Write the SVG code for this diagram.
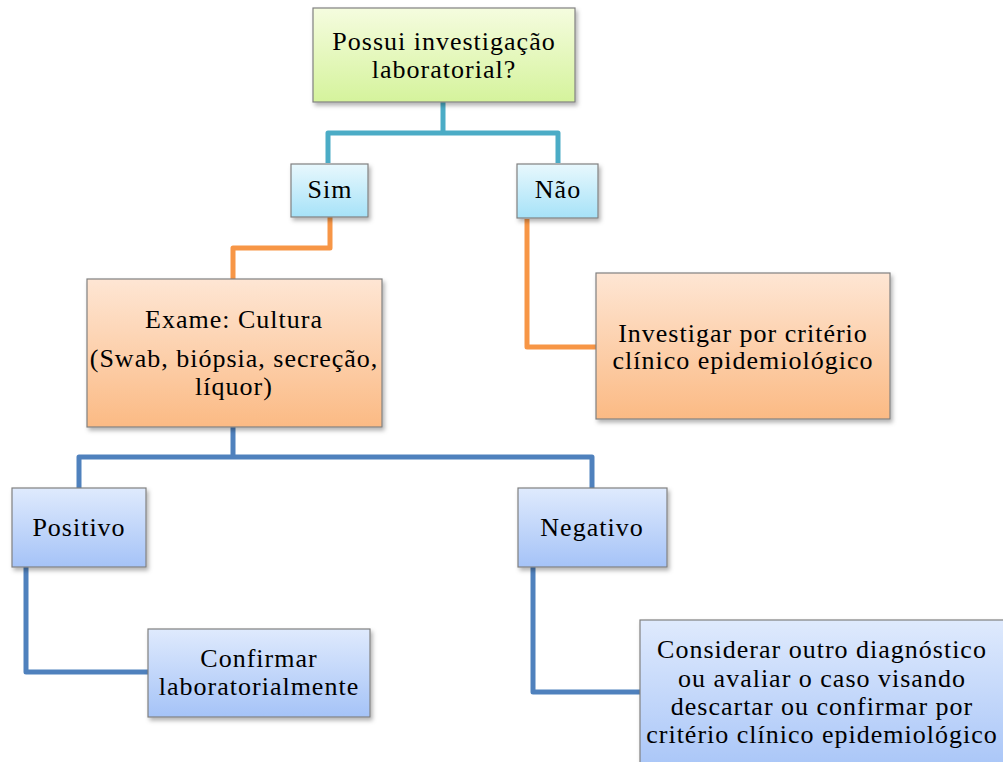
<svg xmlns="http://www.w3.org/2000/svg" width="1003" height="762" viewBox="0 0 1003 762">
<defs>
<linearGradient id="gGreen" x1="0" y1="0" x2="0" y2="1"><stop offset="0" stop-color="#f5fcdf"/><stop offset="1" stop-color="#d5f39c"/></linearGradient>
<linearGradient id="gCyan" x1="0" y1="0" x2="0" y2="1"><stop offset="0" stop-color="#e8f8fd"/><stop offset="1" stop-color="#a6e2f8"/></linearGradient>
<linearGradient id="gOrange" x1="0" y1="0" x2="0" y2="1"><stop offset="0" stop-color="#fee6d4"/><stop offset="1" stop-color="#fbba84"/></linearGradient>
<linearGradient id="gBlue" x1="0" y1="0" x2="0" y2="1"><stop offset="0" stop-color="#dfeafd"/><stop offset="1" stop-color="#a5c3f7"/></linearGradient>
<filter id="sh" x="-10%" y="-10%" width="125%" height="130%"><feDropShadow dx="2" dy="3" stdDeviation="2" flood-color="#000" flood-opacity="0.3"/></filter>
</defs>
<style>
.box{stroke:#808080;stroke-width:1.2;filter:url(#sh)}
.t{font-family:"Liberation Serif","Times New Roman",serif;font-size:26px;letter-spacing:1px;fill:#000;text-anchor:middle}
.c{fill:none;stroke-width:5;stroke-linejoin:round}
</style>
<rect width="1003" height="762" fill="#fff"/>
<g id="connectors">
<path class="c" stroke="#4bacc6" d="M443,102 V133 M328,163 V133 H558 V163"/>
<path class="c" stroke="#f79646" d="M330,217 V248 H233 V279"/>
<path class="c" stroke="#f79646" d="M527,219 V347 H596"/>
<path class="c" stroke="#4f81bd" d="M233,427 V457 M79,488 V457 H592 V488"/>
<path class="c" stroke="#4f81bd" d="M26,567 V672 H148"/>
<path class="c" stroke="#4f81bd" d="M533,567 V692 H640"/>
</g>
<g id="n-possui">
<rect class="box" x="313" y="8" width="262" height="94" fill="url(#gGreen)"/>
<text class="t" x="444" y="50">Possui investigação</text>
<text class="t" x="444" y="78">laboratorial?</text>
</g>
<g id="n-sim">
<rect class="box" x="291" y="164" width="77" height="53" fill="url(#gCyan)"/>
<text class="t" x="330" y="198">Sim</text>
</g>
<g id="n-nao">
<rect class="box" x="517" y="164" width="81" height="54" fill="url(#gCyan)"/>
<text class="t" x="558" y="198">Não</text>
</g>
<g id="n-exame">
<rect class="box" x="87" y="279" width="295" height="148" fill="url(#gOrange)"/>
<text class="t" x="234" y="328">Exame: Cultura</text>
<text class="t" x="234" y="367">(Swab, biópsia, secreção,</text>
<text class="t" x="234" y="395">líquor)</text>
</g>
<g id="n-investigar">
<rect class="box" x="596" y="273" width="294" height="146" fill="url(#gOrange)"/>
<text class="t" x="743" y="342">Investigar por critério</text>
<text class="t" x="743" y="369">clínico epidemiológico</text>
</g>
<g id="n-positivo">
<rect class="box" x="12" y="488" width="134" height="79" fill="url(#gBlue)"/>
<text class="t" x="79" y="536">Positivo</text>
</g>
<g id="n-negativo">
<rect class="box" x="518" y="488" width="149" height="79" fill="url(#gBlue)"/>
<text class="t" x="592" y="536">Negativo</text>
</g>
<g id="n-confirmar">
<rect class="box" x="148" y="629" width="222" height="88" fill="url(#gBlue)"/>
<text class="t" x="259" y="667">Confirmar</text>
<text class="t" x="259" y="695">laboratorialmente</text>
</g>
<g id="n-considerar">
<rect class="box" x="640" y="620" width="370" height="160" fill="url(#gBlue)"/>
<text class="t" x="822" y="658">Considerar outro diagnóstico</text>
<text class="t" x="822" y="687">ou avaliar o caso visando</text>
<text class="t" x="822" y="715">descartar ou confirmar por</text>
<text class="t" x="822" y="743">critério clínico epidemiológico</text>
</g>
</svg>
